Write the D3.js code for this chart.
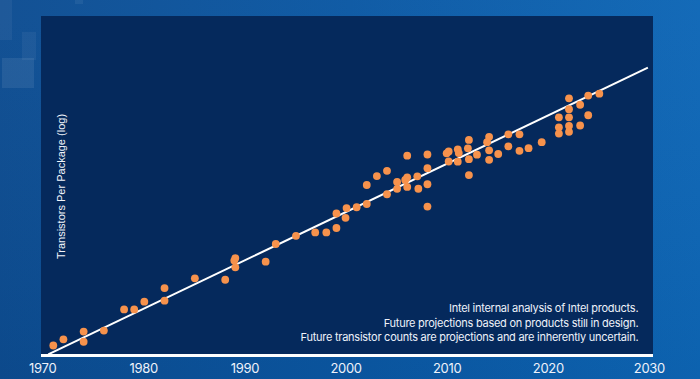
<!DOCTYPE html>
<html><head><meta charset="utf-8">
<script src="https://cdn.jsdelivr.net/npm/d3@7"></script>
<style>html,body{margin:0;padding:0;background:#0b559f;}svg{display:block;}</style>
</head><body>
<svg id="chart" width="700" height="379"></svg>
<script>
// ---- data ----
const years = [1971,1972,1974,1974,1976,1978,1979,1980,1982,1982,1985,1988,1989,1988.9,1989,1992,1993,1995,1996.9,1998,1999,1999,1999.9,2000,2001,2002,2002,2003,2004,2004,2005,2005,2005.8,2006,2006,2006,2007,2007.1,2008,2008,2008,2008,2009.9,2010.1,2010.1,2011,2011.1,2011,2012.1,2012,2012.1,2012.1,2012.9,2014.1,2013.9,2014.1,2014.1,2015,2016,2016,2017.1,2017.1,2018,2019.3,2021,2021,2021,2022,2022,2022,2022,2022,2023.1,2023.1,2023.9,2023.9,2025];
const transistors = [3.7e3,5.7e3,9.8e3,4.8e3,1.05e4,4.6e4,4.6e4,7.9e4,2.05e5,8.45e4,4.05e5,3.66e5,1.67e6,1.4e6,8.7e5,1.29e6,4.45e6,7.9e6,1.0e7,1.0e7,1.36e7,3.75e7,2.77e7,5.5e7,5.8e7,7.3e7,2.75e8,5.15e8,7.4e8,1.44e8,2.1e8,3.4e8,3.9e8,4.7e8,2.4e8,2.13e9,5.05e8,2.12e8,2.32e9,8.9e8,2.9e8,6.1e7,2.52e9,2.86e9,1.42e9,3.33e9,2.57e9,1.4e9,6.4e9,3.57e9,1.67e9,5.5e8,2.29e9,8.0e9,5.5e9,3.1e9,1.6e9,2.4e9,9.5e9,4.1e9,9.5e9,3.0e9,3.6e9,5.5e9,3.12e10,1.55e10,1.0e10,1.18e11,5.5e10,3.12e10,1.72e10,1.13e10,7.5e10,1.76e10,1.43e11,3.6e10,1.63e11];
const trendYears = [1970.5, 2029.8];
const trendValues = [2.0e3, 1.0e12];
const tickYears = [1970,1980,1990,2000,2010,2020,2030];
const yAxisTitle = "Transistors Per Package (log)";
const notes = ["Intel internal analysis of Intel products.",
               "Future projections based on products still in design.",
               "Future transistor counts are projections and are inherently uncertain."];

// ---- layout ----
const svg = d3.select("#chart");
const W = 700, H = 379;
const panel = {x0: 41, x1: 653, y0: 16, y1: 355};

const defs = svg.append("defs");
const bg = defs.append("linearGradient").attr("id","bg").attr("x1","0").attr("x2","1").attr("y1","0").attr("y2","0");
bg.append("stop").attr("offset","0").attr("stop-color","#0c4c91");
bg.append("stop").attr("offset","0.5").attr("stop-color","#0a57a3");
bg.append("stop").attr("offset","1").attr("stop-color","#0d66b6");
svg.append("rect").attr("width",W).attr("height",H).attr("fill","url(#bg)");
const bg2 = defs.append("linearGradient").attr("id","bgv").attr("x1","0").attr("x2","0").attr("y1","0").attr("y2","1");
bg2.append("stop").attr("offset","0").attr("stop-color","#ffffff").attr("stop-opacity",0.03);
bg2.append("stop").attr("offset","1").attr("stop-color","#000000").attr("stop-opacity",0.04);
svg.append("rect").attr("width",W).attr("height",H).attr("fill","url(#bgv)");

// subtle pixel squares top-left
const squares = [[0,0,12,40,0.05],[2,58,32,30,0.08],[22,32,14,28,0.05],[75,0,8,4,0.06]];
svg.selectAll("rect.sq").data(squares).join("rect").attr("class","sq")
  .attr("x",d=>d[0]).attr("y",d=>d[1]).attr("width",d=>d[2]).attr("height",d=>d[3])
  .attr("fill","#ffffff").attr("opacity",d=>d[4]);

// panel
svg.append("rect").attr("x",panel.x0).attr("y",panel.y0)
  .attr("width",panel.x1-panel.x0).attr("height",panel.y1-panel.y0).attr("fill","#05295c");

// scales
const x = d3.scaleLinear().domain([1970,2030]).range([43.2, 649.9]);
const y = d3.scaleLog().domain([1e3,1e12]).range([364.2, 67.7]);

// trend line
const trend = trendYears.map((t,i)=>[t,trendValues[i]]);
svg.append("path").datum(trend)
  .attr("d", d3.line().x(d=>x(d[0])).y(d=>y(d[1])))
  .attr("stroke","#ffffff").attr("stroke-width",2).attr("fill","none");

// points
const pts = years.map((t,i)=>({t, v: transistors[i]}));
svg.append("g").selectAll("circle").data(pts).join("circle")
  .attr("cx",d=>x(d.t)).attr("cy",d=>y(d.v)).attr("r",3.9)
  .attr("fill","#f7924c");

// baseline
svg.append("rect").attr("x",panel.x0).attr("y",354).attr("width",panel.x1-panel.x0).attr("height",3).attr("fill","#ffffff");

// x axis labels
const xAxis = d3.axisBottom(x).tickValues(tickYears).tickFormat(d3.format("d")).tickSize(0).tickPadding(0);
const ax = svg.append("g").attr("transform","translate(-1,364)").call(xAxis);
ax.select(".domain").remove();
ax.selectAll("text").attr("fill","#eef2fa").attr("font-family","Inter, 'Open Sans', sans-serif")
  .attr("font-size",13).attr("dy","0.71em").attr("letter-spacing","-0.3");

// y axis title
svg.append("text").attr("transform","translate(64.5,186.5) rotate(-90)")
  .attr("text-anchor","middle").attr("fill","#f2f5fb")
  .attr("font-family","'Liberation Sans', Arial, sans-serif").attr("font-size",11)
  .text(yAxisTitle);

// notes
svg.append("g").selectAll("text").data(notes).join("text")
  .attr("x",638.3).attr("y",(d,i)=>312.3+i*14.2)
  .attr("text-anchor","end").attr("fill","#eef2fa")
  .attr("font-family","Inter, 'Open Sans', sans-serif").attr("font-size",11)
  .attr("letter-spacing","-0.26")
  .text(d=>d);
</script>
</body></html>
